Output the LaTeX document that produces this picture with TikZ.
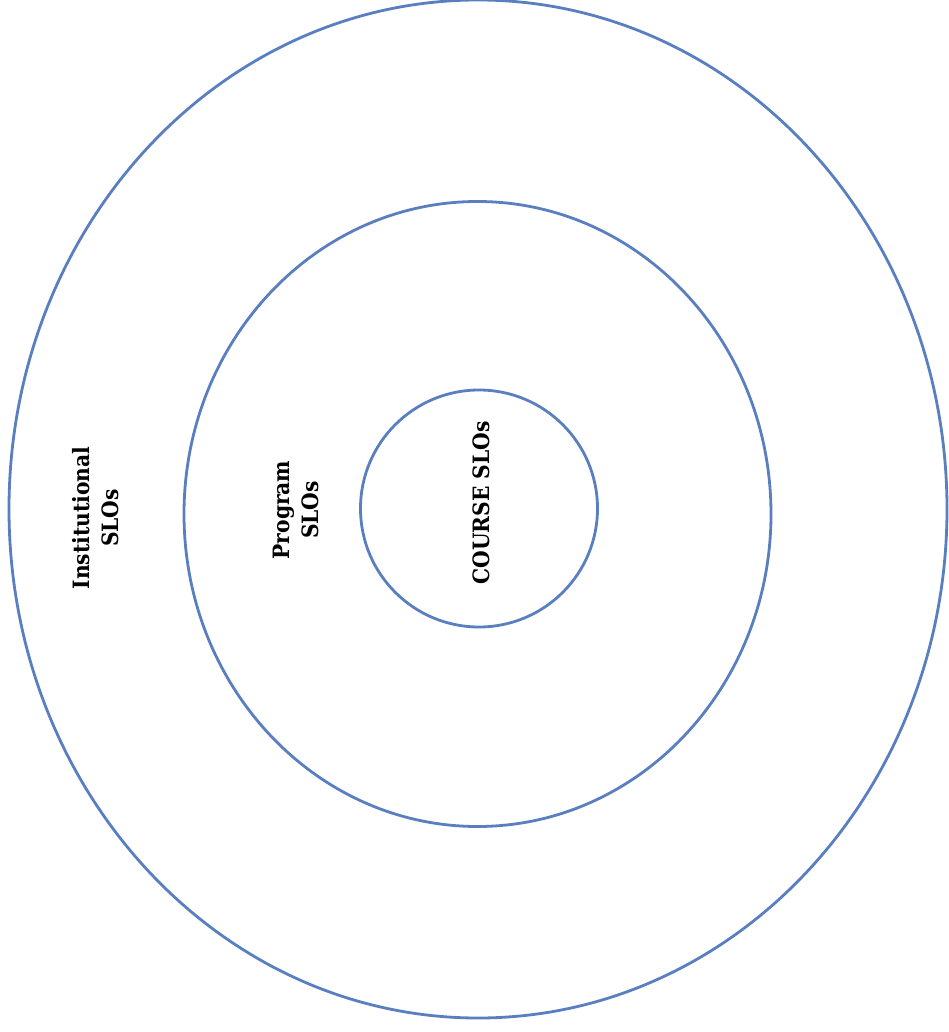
\documentclass[tikz,border=0pt]{standalone}
\usepackage{fontspec}
\setmainfont{Liberation Serif}
\newfontfamily\lblfont{DejaVu Serif Condensed}
\begin{document}
\begin{tikzpicture}[x=1pt,y=-1pt,
  ring/.style={draw=ringblue,line width=2.8pt},
  lbl/.style={rotate=90,align=center,font=\lblfont\bfseries\fontsize{22.5}{29}\selectfont,inner sep=0pt}]
\definecolor{ringblue}{HTML}{5A7FC1}
\useasboundingbox[fill=white] (0,0) rectangle (949,1032);
\draw[ring] (478,509) ellipse [x radius=469, y radius=509];
\draw[ring] (477.5,514) ellipse [x radius=293.5, y radius=312.5];
\draw[ring] (479,508.5) circle [radius=118.5];
\node[lbl] (inst) at (96,518) {Institutional\\SLOs};
\node[lbl] (prog) at (296,510) {Program\\SLOs};
\node[lbl] (course) at (481,503) {COURSE SLOs};
\end{tikzpicture}
\end{document}
